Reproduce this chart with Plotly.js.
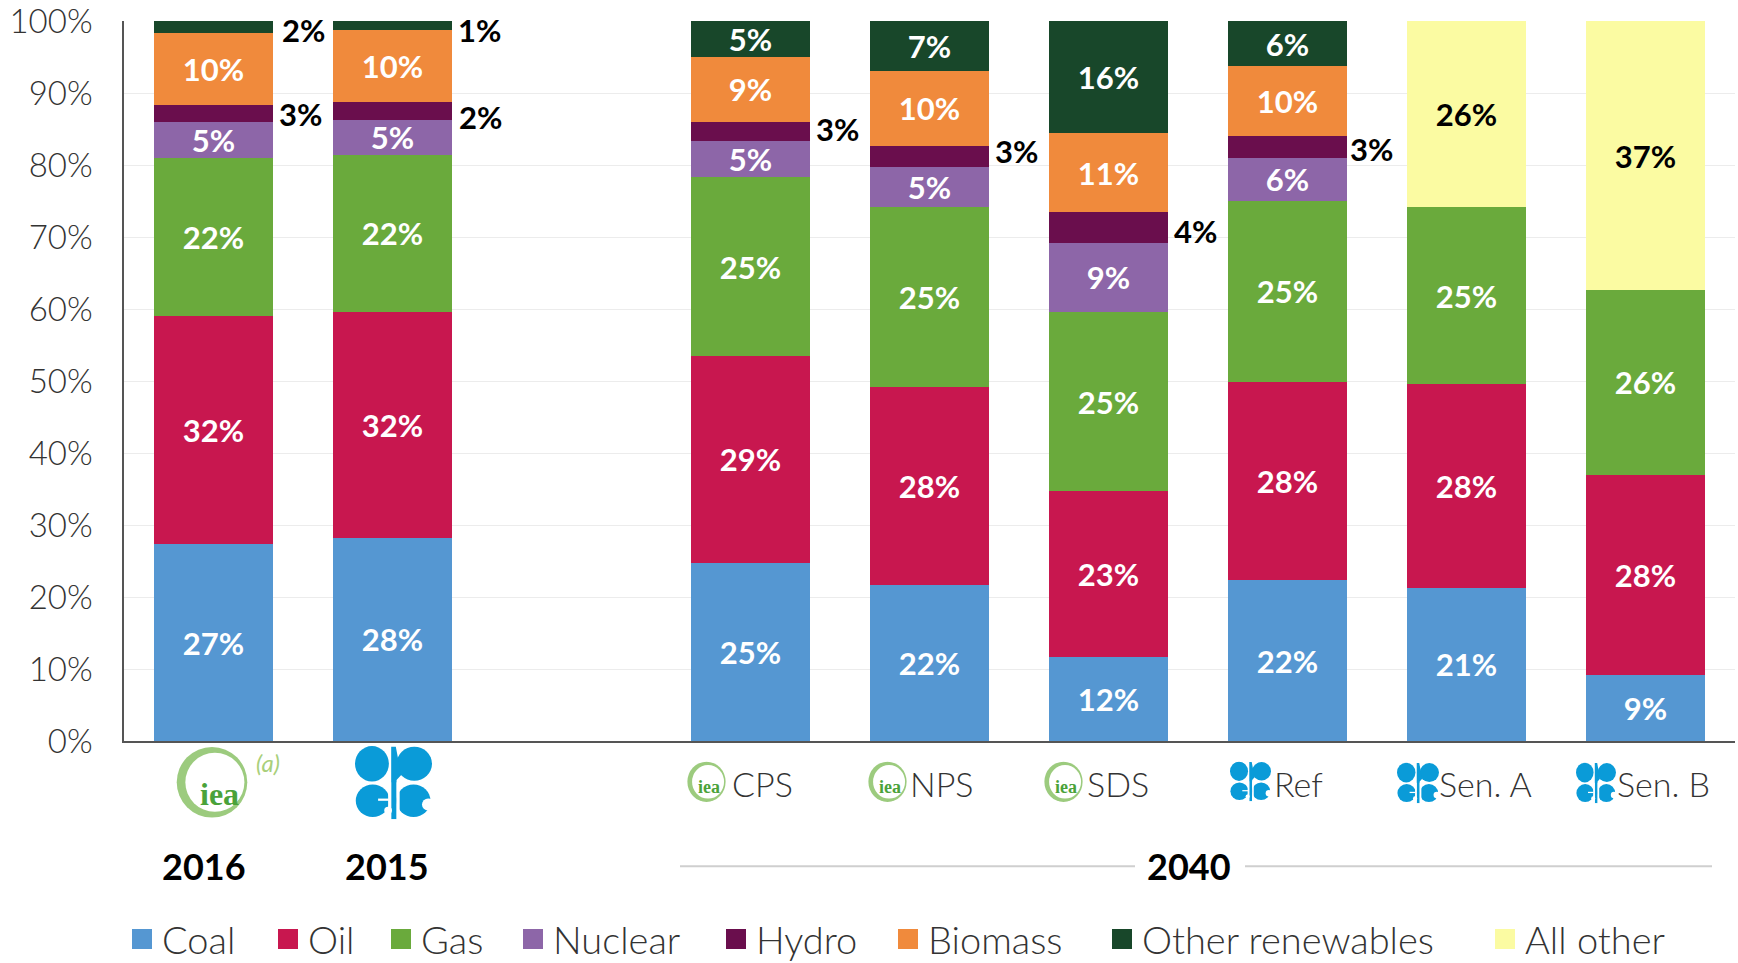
<!DOCTYPE html>
<html><head><meta charset="utf-8">
<script src="https://cdn.plot.ly/plotly-3.0.1.min.js"></script>
<style>html,body{margin:0;padding:0;background:#fff}#c{width:1738px;height:963px}</style>
</head><body><div id="c"></div>
<script>
// ---- data ----
const groups = ['IEA 2016','OPEC 2015','CPS','NPS','SDS','Ref','Sen. A','Sen. B'];
const slots  = [0,1,3,4,5,6,7,8];
const coal    = [27.3,28.2,24.7,21.6,11.6,22.3,21.3,9.1];
const oil     = [31.7,31.4,28.8,27.6,23.1,27.6,28.3,27.9];
const gas     = [22.0,21.8,24.8,24.9,24.9,25.1,24.5,25.6];
const nuclear = [5.0,4.9,5.1,5.6,9.6,6.0,null,null];
const hydro   = [2.4,2.5,2.6,2.9,4.3,3.0,null,null];
const biomass = [10.0,10.0,9.0,10.5,10.9,9.7,null,null];
const otherRen= [1.6,1.2,5.0,6.9,15.6,6.3,null,null];
const allOther= [null,null,null,null,null,null,25.9,37.4];
const coalLabels    = ['27%','28%','25%','22%','12%','22%','21%','9%'];
const oilLabels     = ['32%','32%','29%','28%','23%','28%','28%','28%'];
const gasLabels     = ['22%','22%','25%','25%','25%','25%','25%','26%'];
const nuclearLabels = ['5%','5%','5%','5%','9%','6%','',''];
const hydroLabels   = ['3%','2%','3%','3%','4%','3%','',''];
const biomassLabels = ['10%','10%','9%','10%','11%','10%','',''];
const otherLabels   = ['2%','1%','5%','7%','16%','6%','',''];
const allOtherLabels= ['','','','','','','26%','37%'];
const yTicks = [0,10,20,30,40,50,60,70,80,90,100];

// ---- page geometry helpers ----
const L=124,R=1735,T=20.7,B=740.7;
const px=x=>(x-L)/(R-L), py=y=>(B-y)/(B-T);
const FONT='Lato, sans-serif';
const labelFont='Lato, sans-serif';

const series=[
 {name:'Coal',y:coal,t:coalLabels,c:'#5597d2',lx:122},
 {name:'Oil',y:oil,t:oilLabels,c:'#c8174f',lx:268},
 {name:'Gas',y:gas,t:gasLabels,c:'#6aaa3c',lx:381},
 {name:'Nuclear',y:nuclear,t:nuclearLabels,c:'#8d66a8',lx:513},
 {name:'Hydro',y:hydro,t:hydroLabels.map(()=>''),c:'#6a0e4d',lx:716},
 {name:'Biomass',y:biomass,t:biomassLabels,c:'#f08a3c',lx:888},
 {name:'Other renewables',y:otherRen,t:otherLabels.map((s,i)=>i<2?'':s),c:'#18472a',lx:1102},
 {name:'All other',y:allOther,t:allOtherLabels,c:'#fbfba2',lx:1485,dark:true}
];
const traces=series.map((s,i)=>({
 type:'bar',name:s.name,x:slots,y:s.y,text:s.t,width:0.665,
 textposition:'inside',insidetextanchor:'middle',textangle:0,constraintext:'none',
 cliponaxis:false,
 insidetextfont:{family:labelFont,size:31,weight:700,color:s.dark?'#000':'#fff'},
 marker:{color:s.c,line:{width:0}},
 hoverinfo:'name+y',
 legend:i?('legend'+(i+1)):'legend'
}));

// outside labels
const ann=[];
const hydroOff=[0.485,0.49,0.485,0.485,0.485,0.47];
const hydroY=[87.1,86.6,85.0,81.9,70.9,82.2];
const otherOff=[0.505,0.485];
hydroLabels.forEach((t,i)=>{ if(t) ann.push({x:slots[i]+hydroOff[i],y:hydroY[i],xref:'x',yref:'y',xanchor:'center',yanchor:'middle',text:t,showarrow:false,font:{family:labelFont,size:31,weight:700,color:'#000'}}); });
[0,1].forEach(i=>ann.push({x:slots[i]+otherOff[i],y:98.7,xref:'x',yref:'y',xanchor:'center',yanchor:'middle',text:otherLabels[i],showarrow:false,font:{family:labelFont,size:31,weight:700,color:'#000'}}));

// group / scenario labels
const bold=(x,y,t)=>({x:px(x),y:py(y),xref:'paper',yref:'paper',xanchor:'center',yanchor:'middle',text:t,showarrow:false,font:{family:labelFont,size:36,weight:700,color:'#000'}});
ann.push(bold(204,866,'2016'),bold(387,866,'2015'),bold(1189,866,'2040'));
const scen=[['CPS',730],['NPS',908],['SDS',1085],['Ref',1272],['Sen. A',1437],['Sen. B',1615]];
scen.forEach(s=>ann.push({x:px(s[1]),y:py(783),xref:'paper',yref:'paper',xanchor:'left',yanchor:'middle',text:s[0],showarrow:false,font:{family:FONT,size:34,weight:300,color:'#333'}}));
const ieaText=(x,y,sz)=>({x:px(x),y:py(y),xref:'paper',yref:'paper',xanchor:'center',yanchor:'middle',text:'iea',showarrow:false,font:{family:'Liberation Serif',size:sz,weight:700,color:'#4aa23a'}});
ann.push(ieaText(219,794,32),ieaText(709,787,18),ieaText(890,787,18),ieaText(1066,787,18));
ann.push({x:px(268),y:py(762),xref:'paper',yref:'paper',xanchor:'center',yanchor:'middle',text:'<i>(a)</i>',showarrow:false,font:{family:labelFont,size:24,color:'#a9cf7a'}});

// logos
const ring='<svg xmlns="http://www.w3.org/2000/svg" viewBox="0 0 100 100"><circle cx="50" cy="50" r="49" fill="#9ccb7e"/><circle cx="54" cy="50" r="41" fill="#fff"/></svg>';
const opec='<svg xmlns="http://www.w3.org/2000/svg" viewBox="0 0 100 100"><g fill="#0a9bd8"><ellipse cx="22" cy="25" rx="22" ry="24"/><circle cx="77" cy="25" r="23"/><path d="M47 2L53 2L60 40L54 47V100H47Z"/><circle cx="23" cy="75" r="22"/><circle cx="76" cy="75" r="22"/></g><rect x="30" y="72" width="14" height="3" fill="#fff"/><circle cx="95" cy="80" r="8" fill="#fff"/><circle cx="43" cy="88" r="5" fill="#fff"/><rect x="54" y="50" width="4" height="50" fill="#fff"/><rect x="43" y="50" width="4" height="50" fill="#fff"/></svg>';
const uri=s=>'data:image/svg+xml;charset=utf-8,'+encodeURIComponent(s);
const img=(src,x0,x1,y0,y1)=>({source:uri(src),xref:'paper',yref:'paper',x:px(x0),y:py(y0),sizex:px(x1)-px(x0),sizey:py(y0)-py(y1),xanchor:'left',yanchor:'top',sizing:'stretch',layer:'above'});
const images=[img(ring,176,248,746,818),img(opec,355,432,745,819),img(ring,687,726,761,802),img(ring,868,907,761,802),img(ring,1044,1083,761,802),img(opec,1230,1271,761,801),img(opec,1397,1439,762,803),img(opec,1576,1616,762,803)];

// rules around 2040
const rule=(a,b)=>({type:'line',xref:'paper',yref:'paper',x0:px(a),x1:px(b),y0:py(866),y1:py(866),line:{color:'#cfcfcf',width:2}});
const shapes=[rule(680,1135),rule(1245,1712)];

const layout={
 width:1738,height:963,paper_bgcolor:'#fff',plot_bgcolor:'#fff',
 margin:{l:L,r:1738-R,t:T,b:963-B,pad:0,autoexpand:false},
 barmode:'stack',bargap:0.335,
 font:{family:FONT,color:'#333'},
 xaxis:{range:[-0.5,8.5],showticklabels:false,ticks:'',showgrid:false,zeroline:false,showline:true,linecolor:'#555',linewidth:1.5,fixedrange:true},
 yaxis:{range:[0,100],tickvals:yTicks,ticktext:yTicks.map(v=>v+'%'),ticklabeloverflow:'allow',showgrid:true,gridcolor:'#ececec',gridwidth:1,zeroline:false,showline:true,linecolor:'#555',linewidth:1.5,ticks:'outside',ticklen:23,tickcolor:'rgba(0,0,0,0)',tickfont:{family:FONT,size:33,weight:300,color:'#333'},fixedrange:true},
 annotations:ann,images,shapes,showlegend:true
};
series.forEach((s,i)=>{
 layout[i?('legend'+(i+1)):'legend']={x:px(s.lx),y:py(939),xanchor:'left',yanchor:'middle',orientation:'h',bgcolor:'rgba(0,0,0,0)',borderwidth:0,itemwidth:30,font:{family:FONT,size:38,weight:300,color:'#333'},itemclick:false,itemdoubleclick:false};
});
Plotly.newPlot('c',traces,layout,{displayModeBar:false,responsive:false}).then(()=>{
 document.querySelectorAll('.legendpoints path').forEach(p=>{p.setAttribute('d','M10,10H-10V-10H10Z');});
});
</script></body></html>
